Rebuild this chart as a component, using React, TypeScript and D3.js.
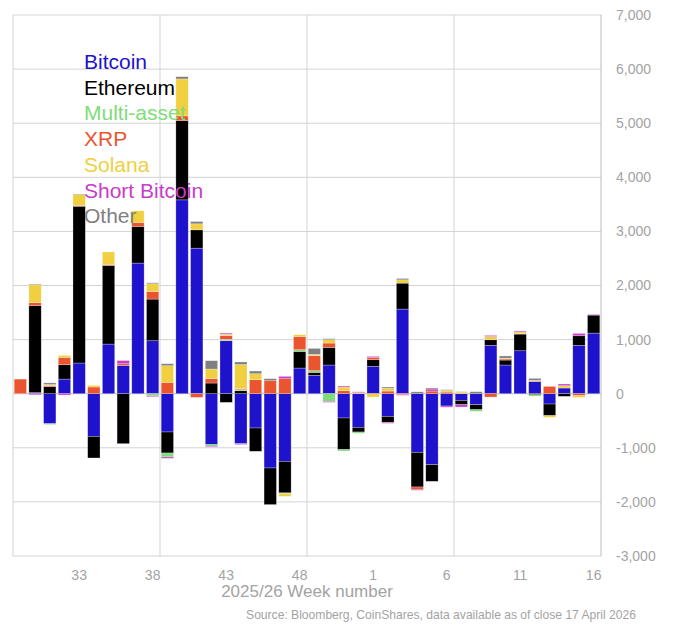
import React from 'react';
import * as d3 from 'd3';

const weeks: string[] = [
    '29', '30', '31', '32', '33', '34', '35', '36', '37', '38',
    '39', '40', '41', '42', '43', '44', '45', '46', '47', '48',
    '49', '50', '51', '52', '1', '2', '3', '4', '5', '6',
    '7', '8', '9', '10', '11', '12', '13', '14', '15', '16',
];
const tickWeeks = ['33', '38', '43', '48', '1', '6', '11', '16'];
const yTicks = [7000, 6000, 5000, 4000, 3000, 2000, 1000, 0, -1000, -2000, -3000];

const bitcoin = [
    0, 20, -555, 270, 567, -788, 917, 523, 2414, 979,
    -708, 3583, 2690, -942, 979, -924, -634, -1373, -1250, 474,
    339, 530, -449, -622, 505, -419, 1564, -1084, -1311, -228,
    -123, -203, 893, 530, 794, 222, -191, 105, 893, 1120,
];
const ethereum = [
    0, 1610, 130, 265, 2898, -400, 1453, -924, 678, 770,
    -388, 1465, 339, 197, -160, 55, -431, -677, -584, 308,
    55, 326, -585, -86, 123, -111, 480, -640, -309, 0,
    -80, -93, 104, 92, 308, -20, -215, -49, 178, 333,
];
const multiAsset = [
    0, 0, -15, 0, 0, 0, 0, 0, 0, -35,
    -74, 0, 0, -31, 25, 20, 0, 0, -16, 31,
    31, -142, -25, -24, 0, 0, 0, 0, 0, 0,
    0, -30, 0, 0, 0, -25, 0, 0, 0, 0,
];
const xrp = [
    270, 55, 20, 135, 15, 124, 20, 30, 74, 141,
    209, 87, -68, 86, 70, 20, 258, 240, 277, 245,
    277, 80, 55, 0, 42, 49, -20, -43, 49, 30,
    0, 0, -62, 20, 10, 12, 135, 0, -37, 0,
];
const solana = [
    0, 327, 20, 37, 200, 30, 230, 0, 214, 142,
    308, 683, 111, 173, 25, 444, 111, 0, -47, 32,
    24, 61, 68, 20, -62, 50, 61, 0, 0, 30,
    30, 0, 61, 15, 31, 12, -31, 43, -31, 0,
];
const shortBitcoin = [
    0, -20, 0, -25, 0, 0, 0, 60, 0, -20,
    -25, 0, 0, -15, 20, -16, 0, 0, 43, 0,
    0, -18, 19, 15, 20, -18, -10, -18, 37, -22,
    -43, 0, 19, 0, 17, 0, 0, 31, 43, 12,
];
const other = [
    0, 14, 30, 0, 10, 0, 0, 0, 0, 18,
    37, 42, 43, 154, 0, 48, 50, 37, 0, 0,
    111, 19, 0, 0, 0, 24, 25, 35, 19, 14,
    7, 37, 0, 41, 0, 37, 0, 0, 0, 0,
];

const seriesNames = ['Bitcoin', 'Ethereum', 'Multi-asset', 'XRP', 'Solana', 'Short Bitcoin', 'Other'];
const seriesValues = [bitcoin, ethereum, multiAsset, xrp, solana, shortBitcoin, other];
const colors = ['#1f12cc', '#000000', '#80dc78', '#ea5530', '#f0d040', '#c83cc8', '#808080'];

const W = 675;
const H = 625;
const plot = { left: 13, right: 601, top: 15, bottom: 556 };
const grey = '#a3a3a3';

type Row = { week: string; [k: string]: number | string };

const App: React.FC = () => {
    const rows: Row[] = weeks.map((w, i) => {
        const r: Row = { week: w };
        seriesNames.forEach((n, s) => { r[n] = seriesValues[s][i]; });
        return r;
    });

    const stacked = d3.stack<Row>()
        .keys(seriesNames)
        .value((d, k) => d[k] as number)
        .offset(d3.stackOffsetDiverging)(rows);

    const x = d3.scaleBand<string>()
        .domain(weeks)
        .range([plot.left, plot.right])
        .paddingInner(0.16)
        .paddingOuter(0.08);
    const step = x.step();
    const slotLeft = (w: string) => x(w)! - step * 0.08;

    const y = d3.scaleLinear().domain([-3000, 7000]).range([plot.bottom, plot.top]);
    const fmt = (v: number) => d3.format(',')(v).replace('\u2212', '-');

    const vGrid = [weeks[10], weeks[20], weeks[30]].map(slotLeft);

    return (
        <svg width={W} height={H} style={{ position: 'absolute', left: 0, top: 0, background: '#fff' }}
            fontFamily="'Liberation Sans', Arial, sans-serif">
            {yTicks.map(t => (
                <line key={'h' + t} x1={plot.left} x2={plot.right} y1={y(t)} y2={y(t)}
                    stroke={t === 0 ? '#b8b8b8' : '#d3d3d3'} strokeWidth={1} />
            ))}
            {vGrid.map((gx, i) => (
                <line key={'v' + i} x1={gx} x2={gx} y1={plot.top} y2={plot.bottom} stroke="#d3d3d3" strokeWidth={1} />
            ))}
            <line x1={plot.left} x2={plot.left} y1={plot.top} y2={plot.bottom} stroke="#d3d3d3" />
            <line x1={plot.right} x2={plot.right} y1={plot.top} y2={plot.bottom} stroke="#bdbdbd" />

            {stacked.map((layer, s) => (
                <g key={layer.key} fill={colors[s]}>
                    {layer.map((seg, i) => {
                        const h = Math.abs(y(seg[0]) - y(seg[1]));
                        if (h < 0.01) return null;
                        return (
                            <rect key={i} x={x(weeks[i])} width={x.bandwidth()}
                                y={Math.min(y(seg[0]), y(seg[1]))} height={h}
                                stroke="#ffffff" strokeOpacity={0.45} strokeWidth={0.6} />
                        );
                    })}
                </g>
            ))}

            {yTicks.map(t => (
                <text key={'yl' + t} x={616} y={y(t)} dy="0.35em" fontSize={14} fill={grey}>{fmt(t)}</text>
            ))}
            {tickWeeks.map(w => (
                <text key={'xl' + w} x={x(w)! + x.bandwidth() / 2} y={580} textAnchor="middle"
                    fontSize={14} fill={grey}>{w}</text>
            ))}
            <text x={(plot.left + plot.right) / 2} y={597} textAnchor="middle" fontSize={17} fill={grey}>
                2025/26 Week number
            </text>
            <text x={636} y={619} textAnchor="end" fontSize={12.1} fill={grey}>
                Source: Bloomberg, CoinShares, data available as of close 17 April 2026
            </text>

            {seriesNames.map((n, s) => (
                <text key={'lg' + n} x={84} y={69 + s * 25.7} fontSize={21} fill={colors[s]}>{n}</text>
            ))}
        </svg>
    );
};

export default App;
